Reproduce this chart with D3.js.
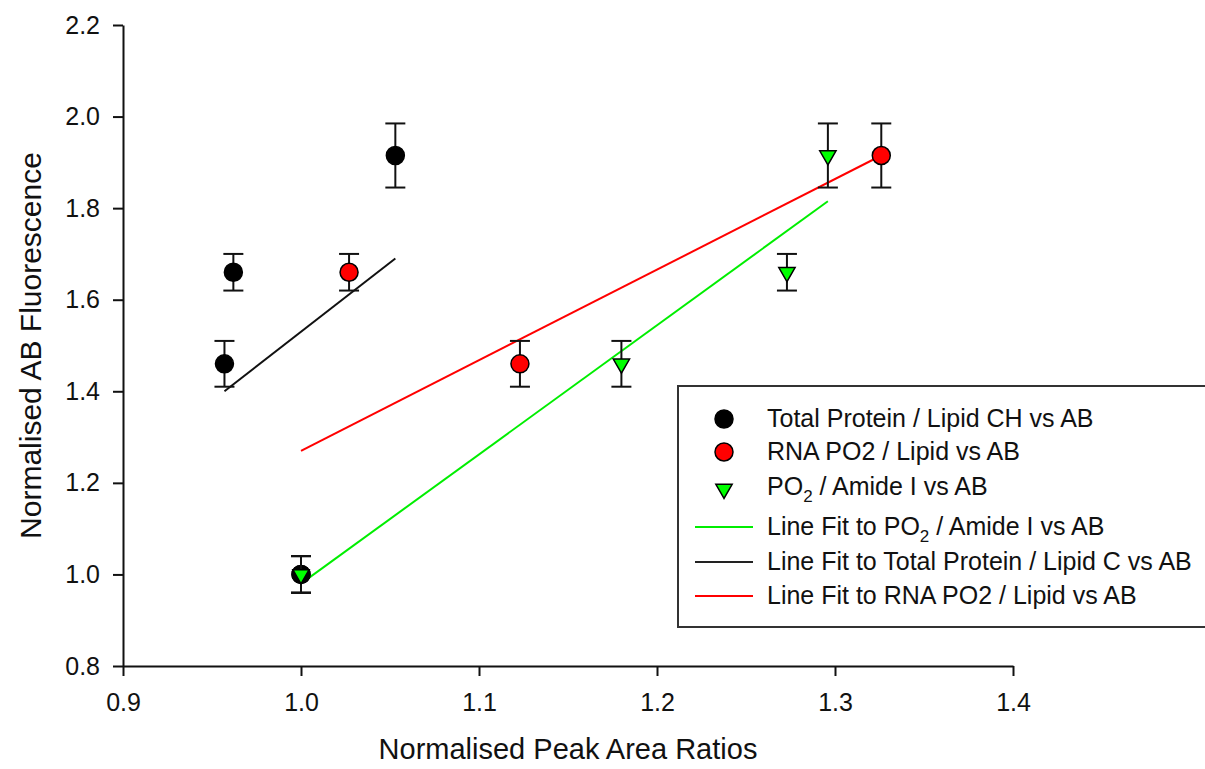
<!DOCTYPE html>
<html>
<head>
<meta charset="utf-8">
<script src="https://d3js.org/d3.v7.min.js"></script>
<style>
  body { margin: 0; background: #fff; }
  text { font-family: "Liberation Sans", Arial, sans-serif; fill: #111; }
</style>
</head>
<body>
<div id="chart"></div>
<script>
// values
var blackX = [0.957, 0.962, 1.000, 1.053];
var blackY = [1.46, 1.66, 1.00, 1.915];
var blackErr = [0.05, 0.04, 0.04, 0.07];

var redX = [1.000, 1.027, 1.123, 1.326];
var redY = [1.00, 1.66, 1.46, 1.915];
var redErr = [0.04, 0.04, 0.05, 0.07];

var greenX = [1.000, 1.180, 1.273, 1.296];
var greenY = [1.00, 1.46, 1.66, 1.915];
var greenErr = [0.04, 0.05, 0.04, 0.07];

// fitted lines (end points)
var fitGreenX = [1.000, 1.296], fitGreenY = [0.98, 1.815];
var fitBlackX = [0.957, 1.053], fitBlackY = [1.40, 1.69];
var fitRedX = [1.000, 1.326], fitRedY = [1.27, 1.915];

var xTicks = [0.9, 1.0, 1.1, 1.2, 1.3, 1.4];
var yTicks = [0.8, 1.0, 1.2, 1.4, 1.6, 1.8, 2.0, 2.2];

var legendNames = ["Total Protein / Lipid CH vs AB", "RNA PO2 / Lipid vs AB", "PO2 / Amide I vs AB",
  "Line Fit to PO2 / Amide I vs AB", "Line Fit to Total Protein / Lipid C vs AB", "Line Fit to RNA PO2 / Lipid vs AB"];

var width = 1205;
var height = 769;
var margin = {top: 25, bottom: 103, left: 123, right: 192};

var svg = d3.select("#chart")
    .append("svg")
        .attr("width", width)
        .attr("height", height);

var xscale = d3.scaleLinear()
    .domain([0.9, 1.4])
    .range([margin.left, width - margin.right]);
var yscale = d3.scaleLinear()
    .domain([0.8, 2.2])
    .range([height - margin.bottom, margin.top]);

function zip(xs, ys, es) {
    return xs.map(function(x, i){ return {x: x, y: ys[i], e: es ? es[i] : 0}; });
}

// axes
var x_axis = d3.axisBottom(xscale).tickValues(xTicks).tickFormat(d3.format(".1f"))
    .tickSize(10).tickSizeOuter(0).tickPadding(17);
var y_axis = d3.axisLeft(yscale).tickValues(yTicks).tickFormat(d3.format(".1f"))
    .tickSize(10).tickSizeOuter(0).tickPadding(13);

var gx = svg.append("g")
    .attr("transform", "translate(0," + (height - margin.bottom) + ")")
    .call(x_axis);
var gy = svg.append("g")
    .attr("transform", "translate(" + margin.left + ",0)")
    .call(y_axis);

[gx, gy].forEach(function(g){
    g.selectAll("path, line").attr("stroke", "#111").attr("stroke-width", 2);
    g.selectAll("text").style("font-size", "25px").attr("fill", "#111")
        .style("font-family", "'Liberation Sans', Arial, sans-serif");
});

svg.append("text")
    .attr("x", (xscale(0.9) + xscale(1.4)) / 2)
    .attr("y", 759)
    .attr("text-anchor", "middle")
    .style("font-size", "29px")
    .text("Normalised Peak Area Ratios");

svg.append("text")
    .attr("transform", "translate(41," + (yscale(0.8) + yscale(2.2)) / 2 + ") rotate(-90)")
    .attr("text-anchor", "middle")
    .style("font-size", "30px")
    .text("Normalised AB Fluorescence");

// fit lines
var line = d3.line()
    .x(function(d){ return xscale(d.x); })
    .y(function(d){ return yscale(d.y); });

var fits = [
    {pts: zip(fitRedX, fitRedY), colour: "#ff0000"},
    {pts: zip(fitGreenX, fitGreenY), colour: "#00ee00"},
    {pts: zip(fitBlackX, fitBlackY), colour: "#111"}
];
fits.forEach(function(f){
    svg.append("path")
        .datum(f.pts)
        .attr("d", line)
        .attr("fill", "none")
        .attr("stroke", f.colour)
        .attr("stroke-width", 2);
});

// error bars + markers
var series = [
    {pts: zip(redX, redY, redErr), fill: "#ff0000", shape: "circle"},
    {pts: zip(blackX, blackY, blackErr), fill: "#000", shape: "circle"},
    {pts: zip(greenX, greenY, greenErr), fill: "#00ff00", shape: "triangle"}
];
var cap = 10;

series.forEach(function(s){
    var g = svg.append("g");
    var eb = g.selectAll(".err")
        .data(s.pts)
        .enter().append("g")
        .attr("class", "err")
        .attr("stroke", "#111")
        .attr("stroke-width", 2);
    eb.append("line")
        .attr("x1", function(d){ return xscale(d.x); })
        .attr("x2", function(d){ return xscale(d.x); })
        .attr("y1", function(d){ return yscale(d.y - d.e); })
        .attr("y2", function(d){ return yscale(d.y + d.e); });
    eb.append("line")
        .attr("x1", function(d){ return xscale(d.x) - cap; })
        .attr("x2", function(d){ return xscale(d.x) + cap; })
        .attr("y1", function(d){ return yscale(d.y + d.e); })
        .attr("y2", function(d){ return yscale(d.y + d.e); });
    eb.append("line")
        .attr("x1", function(d){ return xscale(d.x) - cap; })
        .attr("x2", function(d){ return xscale(d.x) + cap; })
        .attr("y1", function(d){ return yscale(d.y - d.e); })
        .attr("y2", function(d){ return yscale(d.y - d.e); });

    if (s.shape === "circle") {
        g.selectAll(".dot")
            .data(s.pts)
            .enter().append("circle")
            .attr("class", "dot")
            .attr("cx", function(d){ return xscale(d.x); })
            .attr("cy", function(d){ return yscale(d.y); })
            .attr("r", 9)
            .attr("fill", s.fill)
            .attr("stroke", "#000")
            .attr("stroke-width", 1.5);
    } else {
        g.selectAll(".tri")
            .data(s.pts)
            .enter().append("path")
            .attr("class", "tri")
            .attr("d", d3.symbol(d3.symbolTriangle, 115))
            .attr("transform", function(d){
                return "translate(" + xscale(d.x) + "," + yscale(d.y) + ") rotate(180)";
            })
            .attr("fill", s.fill)
            .attr("stroke", "#000")
            .attr("stroke-width", 1.5);
    }
});

// legend
var lg = svg.append("g");
lg.append("rect")
    .attr("x", 678)
    .attr("y", 386)
    .attr("width", 540)
    .attr("height", 241)
    .attr("fill", "#fff")
    .attr("stroke", "#333")
    .attr("stroke-width", 2);

var rowY = [419, 452, 487, 527, 562, 596];
var symX = 724;

lg.append("circle").attr("cx", symX).attr("cy", rowY[0]).attr("r", 9)
    .attr("fill", "#000").attr("stroke", "#000").attr("stroke-width", 1.5);
lg.append("circle").attr("cx", symX).attr("cy", rowY[1]).attr("r", 9)
    .attr("fill", "#ff0000").attr("stroke", "#000").attr("stroke-width", 1.5);
lg.append("path").attr("d", d3.symbol(d3.symbolTriangle, 115))
    .attr("transform", "translate(" + symX + "," + (rowY[2] + 2) + ") rotate(180)")
    .attr("fill", "#00ff00").attr("stroke", "#000").attr("stroke-width", 1.5);

var lineColours = ["#00ee00", "#222", "#ff0000"];
lineColours.forEach(function(c, i){
    lg.append("line")
        .attr("x1", 695).attr("x2", 753)
        .attr("y1", rowY[3 + i]).attr("y2", rowY[3 + i])
        .attr("stroke", c).attr("stroke-width", 2);
});

// legend labels, PO2 gets a subscript 2 where the figure uses one
var sub = [false, false, true, true, false, false];
legendNames.forEach(function(name, i){
    var t = lg.append("text")
        .attr("x", 767)
        .attr("y", rowY[i] + 8)
        .style("font-size", "25px");
    if (sub[i]) {
        var parts = name.split("PO2");
        t.append("tspan").text(parts[0] + "PO");
        t.append("tspan").attr("dy", 7).style("font-size", "17px").text("2");
        t.append("tspan").attr("dy", -7).text(parts[1]);
    } else {
        t.text(name);
    }
});
</script>
</body>
</html>
